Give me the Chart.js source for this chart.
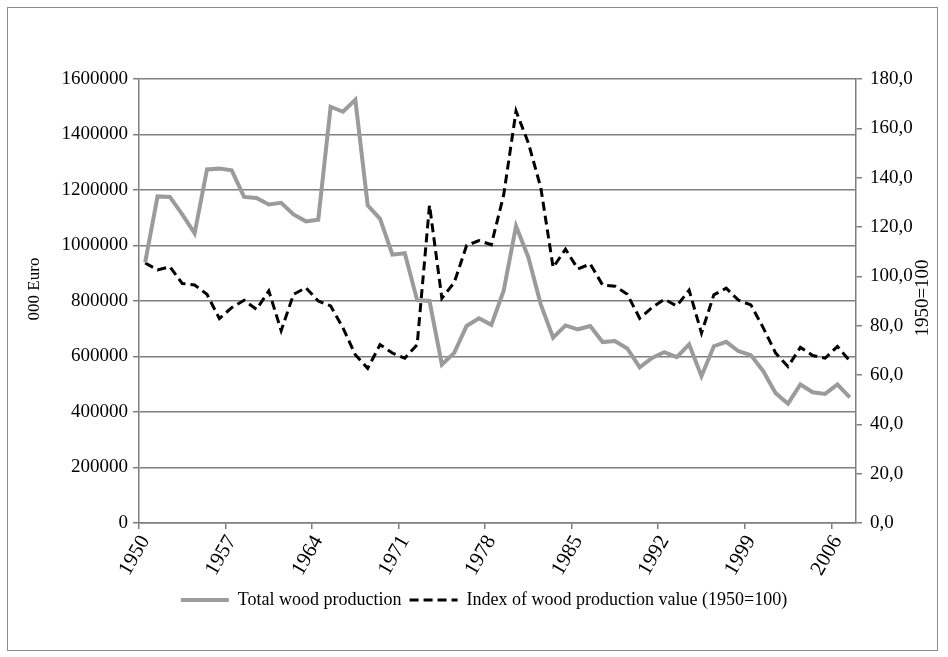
<!DOCTYPE html>
<html>
<head>
<meta charset="utf-8">
<script src="https://cdn.jsdelivr.net/npm/chart.js@4.4.0/dist/chart.umd.min.js"></script>
<style>
  html, body { margin: 0; padding: 0; background: #fff; }
  #wrap { position: relative; width: 948px; height: 657px; }
  #wrap canvas { position: absolute; left: 0; top: 0; }
  #frame { position: absolute; left: 7px; top: 7px; width: 931px; height: 644px; border: 1px solid #8c8c8c; box-sizing: border-box; pointer-events: none; }
</style>
</head>
<body>
<div id="wrap">
  <canvas id="woodChart" width="948" height="657"></canvas>
  <div id="frame"></div>
</div>
<script>
const years = [
  '1950', '1951', '1952', '1953', '1954', '1955', '1956', '1957', '1958', '1959',
  '1960', '1961', '1962', '1963', '1964', '1965', '1966', '1967', '1968', '1969',
  '1970', '1971', '1972', '1973', '1974', '1975', '1976', '1977', '1978', '1979',
  '1980', '1981', '1982', '1983', '1984', '1985', '1986', '1987', '1988', '1989',
  '1990', '1991', '1992', '1993', '1994', '1995', '1996', '1997', '1998', '1999',
  '2000', '2001', '2002', '2003', '2004', '2005', '2006', '2007'
];

// 000 Euro
const woodProduction = [
  939000, 1177000, 1175000, 1112000, 1044000, 1274000, 1277000, 1271000, 1175000, 1171000,
  1148000, 1154000, 1112000, 1087000, 1093000, 1500000, 1482000, 1525000, 1145000, 1096000,
  967000, 972000, 803000, 800000, 571000, 613000, 710000, 738000, 714000, 837000,
  1070000, 957000, 788000, 668000, 712000, 698000, 710000, 652000, 656000, 629000,
  561000, 595000, 616000, 598000, 644000, 529000, 637000, 653000, 619000, 605000,
  547000, 468000, 430000, 499000, 471000, 465000, 499000, 453000
];

// 1950=100
const productionIndex = [
  105.4, 102.6, 103.9, 97.1, 96.5, 92.7, 82.9, 87.3, 90.3, 86.6,
  94.1, 78.0, 92.7, 95.4, 90.0, 88.0, 79.1, 68.2, 62.7, 72.3,
  68.9, 66.8, 72.3, 128.9, 91.1, 97.5, 112.5, 114.5, 112.8, 133.0,
  167.0, 154.0, 136.0, 103.6, 111.0, 103.0, 105.0, 96.5, 96.0, 92.7,
  83.0, 87.3, 90.7, 88.0, 94.4, 77.0, 92.5, 95.2, 90.3, 88.4,
  79.1, 68.9, 63.4, 71.2, 67.9, 66.8, 71.6, 65.7
];

const seriesNames = ['Total wood production', 'Index of wood production value (1950=100)'];
const leftTitle = '000 Euro';
const rightTitle = '1950=100';

const serif = '"Liberation Serif", "Times New Roman", serif';
const gridGray = '#7f7f7f';

// axis titles: the right one reads bottom-to-top, which Chart.js does not do
const axisTitles = {
  id: 'axisTitles',
  afterDraw(chart) {
    const ctx = chart.ctx;
    ctx.save();
    ctx.fillStyle = '#000';
    ctx.textAlign = 'center';
    ctx.textBaseline = 'middle';
    ctx.font = '17px ' + serif;
    ctx.translate(35, 289);
    ctx.rotate(-Math.PI / 2);
    ctx.fillText(leftTitle, 0, 0);
    ctx.restore();

    ctx.save();
    ctx.fillStyle = '#000';
    ctx.textAlign = 'center';
    ctx.textBaseline = 'middle';
    ctx.font = '19px ' + serif;
    ctx.translate(923, 298);
    ctx.rotate(-Math.PI / 2);
    ctx.fillText(rightTitle, 0, 0);
    ctx.restore();
  }
};

const ctx = document.getElementById('woodChart').getContext('2d');
new Chart(ctx, {
  type: 'line',
  data: {
    labels: years,
    datasets: [
      {
        label: seriesNames[0],
        data: woodProduction,
        yAxisID: 'y',
        borderColor: '#9b9b9b',
        borderWidth: 4,
        pointRadius: 0,
        tension: 0,
        fill: false
      },
      {
        label: seriesNames[1],
        data: productionIndex,
        yAxisID: 'y1',
        borderColor: '#000',
        borderWidth: 3,
        borderDash: [9, 5],
        pointRadius: 0,
        tension: 0,
        fill: false
      }
    ]
  },
  options: {
    responsive: false,
    animation: false,
    layout: { padding: { top: 79, right: 0, bottom: 38, left: 20 } },
    plugins: {
      tooltip: { enabled: false },
      legend: {
        position: 'bottom',
        labels: {
          color: '#000',
          font: { family: serif, size: 18 },
          padding: 8,
          usePointStyle: true,
          pointStyleWidth: 48,
          boxHeight: 10,
          generateLabels: chart => chart.data.datasets.map((ds, i) => ({
            text: ds.label,
            datasetIndex: i,
            strokeStyle: ds.borderColor,
            fillStyle: ds.borderColor,
            lineWidth: ds.borderWidth,
            lineDash: ds.borderDash || [],
            pointStyle: 'line',
            fontColor: '#000',
            hidden: false
          }))
        }
      }
    },
    scales: {
      x: {
        offset: true,
        grid: {
          offset: true,
          drawOnChartArea: false,
          drawTicks: true,
          tickLength: 6,
          lineWidth: 1.5,
          color: c => (c.index % 7 === 0 ? gridGray : 'rgba(0,0,0,0)')
        },
        border: { color: gridGray, width: 1.5 },
        ticks: {
          autoSkip: false,
          minRotation: 60,
          maxRotation: 60,
          padding: 2,
          color: '#000',
          font: { family: serif, size: 21 },
          callback: (v, i) => (i % 7 === 0 ? years[i] : '')
        },
        afterFit: s => { s.height = 60; }
      },
      y: {
        position: 'left',
        min: 0,
        max: 1600000,
        ticks: {
          stepSize: 200000,
          padding: 5,
          color: '#000',
          font: { family: serif, size: 19 },
          callback: v => String(v)
        },
        grid: { color: gridGray, lineWidth: 1.5, tickLength: 6 },
        border: { color: gridGray, width: 1.5 },
        afterFit: s => { s.width = 119; }
      },
      y1: {
        position: 'right',
        min: 0,
        max: 180,
        ticks: {
          stepSize: 20,
          padding: 8,
          color: '#000',
          font: { family: serif, size: 19 },
          callback: v => v.toFixed(1).replace('.', ',')
        },
        grid: { drawOnChartArea: false, color: gridGray, lineWidth: 1.5, tickLength: 6 },
        border: { color: gridGray, width: 1.5 },
        afterFit: s => { s.width = 92; }
      }
    }
  },
  plugins: [axisTitles]
});
</script>
</body>
</html>
